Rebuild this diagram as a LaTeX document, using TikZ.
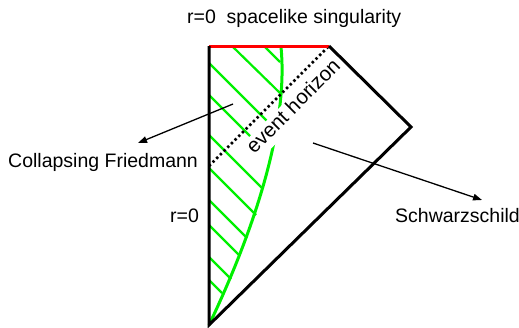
\documentclass[tikz,border=0pt]{standalone}
\usepackage{fontspec}
\setmainfont{Liberation Sans}
\usetikzlibrary{arrows.meta}
\definecolor{hatchgreen}{RGB}{0,240,0}
\begin{document}
\begin{tikzpicture}[x=1pt,y=-1pt,
  every node/.style={font=\fontsize{19.5}{23}\selectfont, inner sep=0pt},
  label/.style={anchor=base west},
  bound/.style={line width=3pt, black},
  sing/.style={line width=3pt, red},
  surf/.style={line width=3pt, hatchgreen},
  hatch/.style={line width=2.2pt, hatchgreen},
  horizon/.style={line width=2.6pt, dash pattern=on 2.4pt off 2.8pt},
  pointer/.style={line width=1.3pt, -{Triangle[length=9pt,width=6.5pt]}}]
\useasboundingbox (0,0) rectangle (519,327);
% corners of the diagram
\coordinate (apex) at (209,325);
\coordinate (tl) at (209,46);
\coordinate (tr) at (329,46);
\coordinate (ri) at (411,127);
\coordinate (hs) at (209,166);
% hatching of the collapsing star
\foreach \a/\b/\c/\d in {233/47/280/93, 265/47/280/62, 209/63/267/121, 209/95/250/136,
  209/135/263/189, 209/168/256/215, 209/200/247/238, 209/225/239/255,
  209/257/231/279, 209/280/222/293}
  \draw[hatch] (\a,\b) -- (\c,\d);
% surface of the star
\draw[surf] (apex) .. controls (240,260) and (290,140) .. (281,47);
% event horizon label
\node[rotate=45, anchor=base, fill=white, inner sep=1.5pt, text height=14pt, text depth=6pt,
  font=\fontsize{20.5}{24}\selectfont] (eh) at (298,111) {event horizon};
% boundaries
\draw[horizon] (hs) -- (tr);
\draw[sing] (tl) -- (tr);
\draw[bound] (tl) -- (apex) -- (ri) -- (tr);
% labels
\node[label] (singlab) at (187,23) {r=0\ \ spacelike singularity};
\node[label] (cf) at (8,167) {Collapsing Friedmann};
\node[label] (r0) at (170,222) {r=0};
\node[label] (sch) at (395,222) {Schwarzschild};
% pointers
\coordinate (cfs) at (233,104);
\coordinate (cft) at (138,143);
\coordinate (scs) at (313,143);
\coordinate (sct) at (482,200);
\draw[pointer] (cfs) -- (cft);
\draw[pointer] (scs) -- (sct);
\end{tikzpicture}
\end{document}
